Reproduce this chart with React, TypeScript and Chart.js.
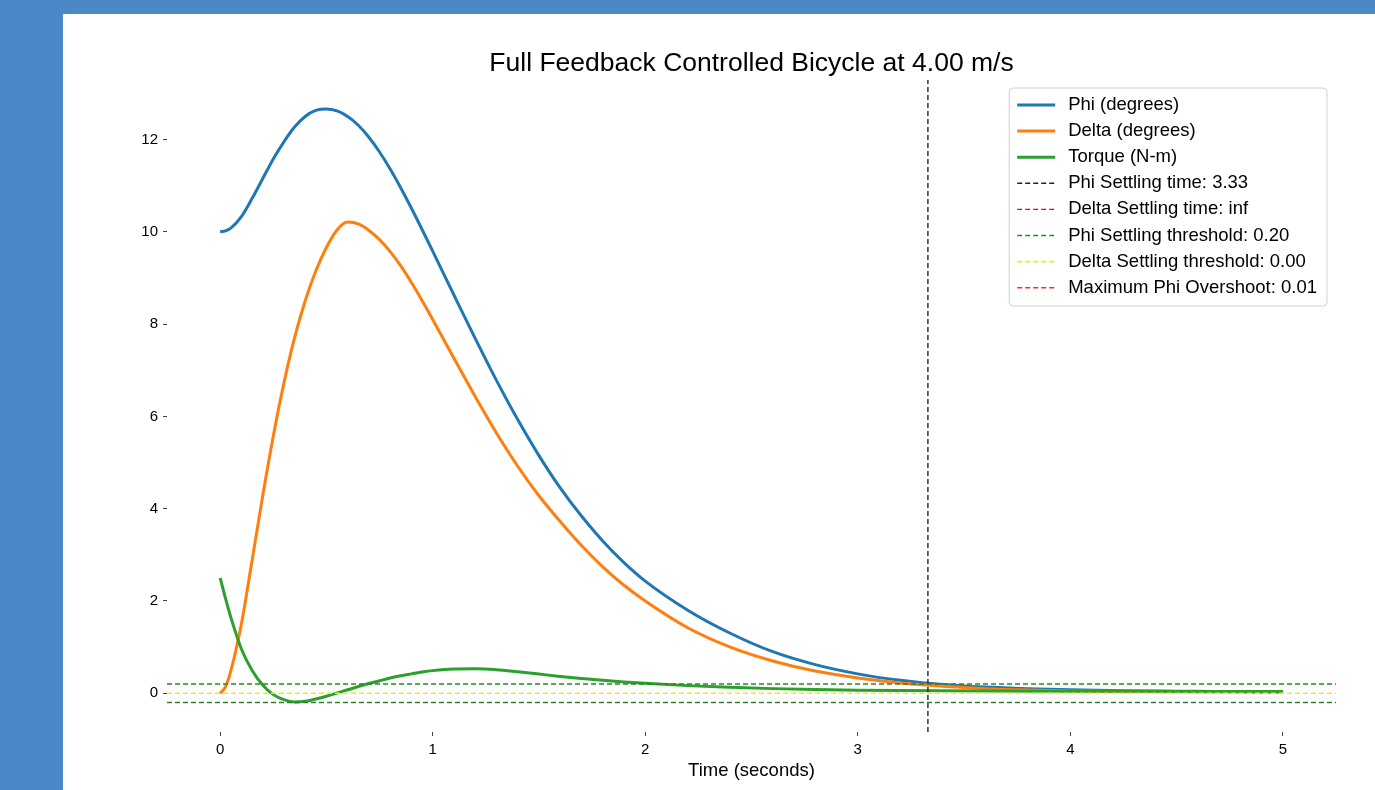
import React, { useEffect, useRef } from 'react';
import { Chart, registerables } from 'chart.js';

Chart.register(...registerables);

// ---- data ----
const timeValues = [
  0, 0.025, 0.05, 0.1, 0.15, 0.2, 0.25, 0.3, 0.35, 0.4, 0.45, 0.5, 0.55, 0.6, 0.65, 0.7, 0.75, 0.8, 0.85, 0.9,
  0.95, 1.0, 1.1, 1.2, 1.3, 1.4, 1.5, 1.6, 1.7, 1.8, 1.9, 2.0, 2.2, 2.4, 2.6, 2.8, 3.0, 3.2, 3.4, 3.6, 3.8,
  4.0, 4.25, 4.5, 4.75, 5.0,
];
const phiValues = [
  10.0, 10.02, 10.08, 10.33, 10.72, 11.15, 11.58, 11.95, 12.27, 12.5, 12.63, 12.66, 12.62, 12.5, 12.31, 12.05,
  11.73, 11.36, 10.95, 10.51, 10.05, 9.58, 8.63, 7.69, 6.78, 5.93, 5.15, 4.45, 3.84, 3.3, 2.83, 2.43, 1.8, 1.3,
  0.9, 0.62, 0.42, 0.28, 0.19, 0.135, 0.1, 0.075, 0.055, 0.045, 0.035, 0.03,
];
const deltaValues = [
  0.0, 0.14, 0.48, 1.5, 2.87, 4.27, 5.57, 6.72, 7.7, 8.5, 9.15, 9.66, 10.04, 10.21, 10.17, 10.03, 9.83, 9.57,
  9.26, 8.9, 8.51, 8.1, 7.26, 6.43, 5.64, 4.92, 4.28, 3.72, 3.2, 2.74, 2.34, 2.0, 1.42, 1.0, 0.7, 0.48, 0.33,
  0.22, 0.15, 0.1, 0.07, 0.05, 0.04, 0.03, 0.025, 0.02,
];
const torqueValues = [
  2.5, 2.06, 1.65, 0.96, 0.5, 0.18, -0.03, -0.14, -0.19, -0.175, -0.125, -0.065, 0.005, 0.075, 0.145, 0.21,
  0.27, 0.33, 0.38, 0.42, 0.46, 0.49, 0.525, 0.53, 0.51, 0.465, 0.415, 0.365, 0.32, 0.28, 0.245, 0.215, 0.165,
  0.13, 0.1, 0.08, 0.067, 0.058, 0.052, 0.048, 0.045, 0.043, 0.041, 0.04, 0.04, 0.04,
];
const xTickValues = [0, 1, 2, 3, 4, 5];
const yTickValues = [0, 2, 4, 6, 8, 10, 12];
const xLimits = [-0.25, 5.25];
const yLimits = [-0.84, 13.29];
const phiSettlingTime = 3.33;
const deltaSettlingTime = Infinity;
const phiSettlingThreshold = 0.2;
const deltaSettlingThreshold = 0.0;
const maxPhiOvershoot = 0.01;
const titleText = 'Full Feedback Controlled Bicycle at 4.00 m/s';
const xAxisLabel = 'Time (seconds)';
const seriesLabels = ['Phi (degrees)', 'Delta (degrees)', 'Torque (N-m)'];
const markerLabels = [
  'Phi Settling time: ' + phiSettlingTime.toFixed(2),
  'Delta Settling time: inf',
  'Phi Settling threshold: ' + phiSettlingThreshold.toFixed(2),
  'Delta Settling threshold: ' + deltaSettlingThreshold.toFixed(2),
  'Maximum Phi Overshoot: ' + maxPhiOvershoot.toFixed(2),
];

const FONT = '"Liberation Sans", Arial, Helvetica, sans-serif';

const pts = (ys: number[]) => timeValues.map((t, i) => ({ x: t, y: ys[i] }));
const hLine = (y: number) => [
  { x: xLimits[0], y },
  { x: xLimits[1], y },
];
const vLine = (x: number) =>
  isFinite(x)
    ? [
        { x, y: yLimits[0] },
        { x, y: yLimits[1] },
      ]
    : [];

const decorPlugin = {
  id: 'decor',
  afterDraw(chart: any) {
    const { ctx, chartArea } = chart;
    ctx.save();
    // title
    ctx.fillStyle = '#000';
    ctx.font = `26.5px ${FONT}`;
    ctx.textAlign = 'center';
    ctx.textBaseline = 'middle';
    ctx.fillText(titleText, (chartArea.left + chartArea.right) / 2, 50);

    // legend
    const items = chart.data.datasets.filter((d: any) => d.label);
    ctx.font = `18.5px ${FONT}`;
    const maxW = Math.max(...items.map((d: any) => ctx.measureText(d.label).width));
    const boxW = 59 + maxW + 10;
    const rowH = 26.1;
    const boxH = 218;
    const boxRight = chartArea.right - 9;
    const boxLeft = boxRight - boxW;
    const boxTop = chartArea.top + 8;
    const r = 4;
    ctx.beginPath();
    ctx.moveTo(boxLeft + r, boxTop);
    ctx.arcTo(boxLeft + boxW, boxTop, boxLeft + boxW, boxTop + boxH, r);
    ctx.arcTo(boxLeft + boxW, boxTop + boxH, boxLeft, boxTop + boxH, r);
    ctx.arcTo(boxLeft, boxTop + boxH, boxLeft, boxTop, r);
    ctx.arcTo(boxLeft, boxTop, boxLeft + boxW, boxTop, r);
    ctx.closePath();
    ctx.fillStyle = 'rgba(255,255,255,0.85)';
    ctx.fill();
    ctx.strokeStyle = '#d0d0d0';
    ctx.lineWidth = 1;
    ctx.stroke();
    items.forEach((d: any, i: number) => {
      const cy = boxTop + 17 + i * rowH;
      ctx.beginPath();
      ctx.setLineDash(d.borderDash || []);
      ctx.strokeStyle = d.borderColor;
      ctx.lineWidth = d.borderWidth;
      ctx.moveTo(boxLeft + 8, cy);
      ctx.lineTo(boxLeft + 46, cy);
      ctx.stroke();
      ctx.setLineDash([]);
      ctx.fillStyle = '#000';
      ctx.textAlign = 'left';
      ctx.textBaseline = 'middle';
      ctx.fillText(d.label, boxLeft + 59, cy);
    });
    ctx.restore();
  },
};

export default function App() {
  const ref = useRef<HTMLCanvasElement>(null);
  useEffect(() => {
    if (!ref.current) return;
    const dash = [5, 3];
    const common = { pointRadius: 0, pointHoverRadius: 0, fill: false };
    const chart = new Chart(ref.current, {
      type: 'line',
      data: {
        datasets: [
          { ...common, label: seriesLabels[0], data: pts(phiValues), borderColor: '#1f77b4', borderWidth: 3, cubicInterpolationMode: 'monotone', order: 20 },
          { ...common, label: seriesLabels[1], data: pts(deltaValues), borderColor: '#ff7f0e', borderWidth: 3, cubicInterpolationMode: 'monotone', order: 19 },
          { ...common, label: seriesLabels[2], data: pts(torqueValues), borderColor: '#2ca02c', borderWidth: 3, cubicInterpolationMode: 'monotone', order: 18 },
          { ...common, label: markerLabels[0], data: vLine(phiSettlingTime), borderColor: '#222222', borderWidth: 1.4, borderDash: dash, order: 17 },
          { ...common, label: markerLabels[1], data: vLine(deltaSettlingTime), borderColor: '#ff0000', borderWidth: 1.4, borderDash: dash, order: 16 },
          { ...common, label: markerLabels[2], data: hLine(phiSettlingThreshold), borderColor: '#2a852a', borderWidth: 1.4, borderDash: dash, order: 15 },
          { ...common, label: '', data: hLine(-phiSettlingThreshold), borderColor: '#2a852a', borderWidth: 1.4, borderDash: dash, order: 14 },
          { ...common, label: markerLabels[3], data: hLine(deltaSettlingThreshold), borderColor: '#f0f000', borderWidth: 1.6, borderDash: dash, order: 13 },
          { ...common, label: markerLabels[4], data: [], borderColor: '#f03030', borderWidth: 1.4, borderDash: dash, order: 12 },
        ] as any,
      },
      options: {
        responsive: false,
        maintainAspectRatio: false,
        animation: false,
        devicePixelRatio: 1,
        layout: { padding: { left: 44, right: 39, top: 66, bottom: 0 } },
        plugins: { legend: { display: false }, title: { display: false }, tooltip: { enabled: false } },
        scales: {
          x: {
            type: 'linear',
            min: xLimits[0],
            max: xLimits[1],
            afterBuildTicks: (s: any) => {
              s.ticks = xTickValues.map((v) => ({ value: v }));
            },
            afterFit: (s: any) => {
              s.height = 58;
            },
            border: { display: false },
            grid: { display: true, drawOnChartArea: false, drawTicks: true, tickLength: 4, tickColor: '#444', tickWidth: 1 },
            ticks: { color: '#000', font: { family: FONT, size: 15 }, padding: 5, maxRotation: 0, callback: (v: any) => String(v) },
            title: { display: true, text: xAxisLabel, color: '#000', font: { family: FONT, size: 18.5 }, padding: { top: 0, bottom: 8 } },
          },
          y: {
            type: 'linear',
            min: yLimits[0],
            max: yLimits[1],
            afterBuildTicks: (s: any) => {
              s.ticks = yTickValues.map((v) => ({ value: v }));
            },
            afterFit: (s: any) => {
              s.width = 60;
            },
            border: { display: false },
            grid: { display: true, drawOnChartArea: false, drawTicks: true, tickLength: 4, tickColor: '#444', tickWidth: 1 },
            ticks: { color: '#000', font: { family: FONT, size: 15 }, padding: 5, callback: (v: any) => String(v) },
          },
        },
      } as any,
      plugins: [decorPlugin],
    });
    return () => chart.destroy();
  }, []);

  return (
    <div style={{ position: 'fixed', inset: 0, background: '#4a88c7' }}>
      <div style={{ position: 'absolute', left: 63, top: 14, right: 0, bottom: 0, background: '#ffffff' }}>
        <canvas ref={ref} width={1312} height={776} style={{ display: 'block', width: 1312, height: 776 }} />
      </div>
    </div>
  );
}
